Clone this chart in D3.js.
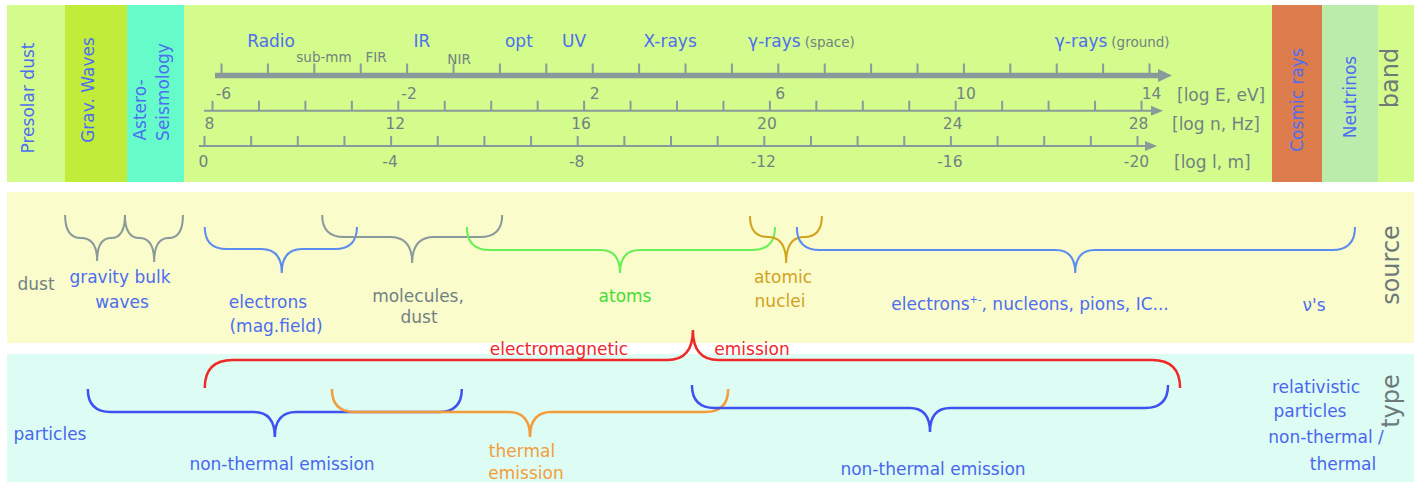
<!DOCTYPE html>
<html><head><meta charset="utf-8">
<script src="https://cdn.jsdelivr.net/npm/d3@7"></script>
<style>
body{margin:0;background:#fff;}
text{font-family:"DejaVu Sans",Verdana,sans-serif;}
</style>
</head><body>
<svg id="c" width="1414" height="482"></svg>
<script>
// ---------------- DATA ----------------
const energyTicks = d3.range(-6, 15);
const energyLabels = [-6, -2, 2, 6, 10, 14];
const freqTicks = d3.range(8, 29);
const freqLabels = [8, 12, 16, 20, 24, 28];
const waveTicks = d3.range(0, -21, -1);
const waveLabels = [0, -4, -8, -12, -16, -20];
const axisUnits = ["[log E, eV]", "[log n, Hz]", "[log l, m]"];

const bandNames = ["Radio", "IR", "opt", "UV", "X-rays"];
const bandCentersE = [-4.92, -1.67, 0.42, 1.61, 3.68];
const subBandNames = ["sub-mm", "FIR", "NIR"];
const subBandCentersE = [-3.78, -2.66, -0.87];
const gammaNames = ["γ-rays", "γ-rays"];
const gammaQualifiers = ["(space)", "(ground)"];
const gammaStartE = [5.36, 11.97];

const messengerColumns = ["Presolar dust", "Grav. Waves", "Astero-|Seismology", "Cosmic rays", "Neutrinos"];
const rowNames = ["band", "source", "type"];

// sources: brace extent in log E [from, to, tip]
const sourceNames = ["gravity waves", "bulk waves", "electrons (mag.field)", "molecules, dust", "atoms", "atomic nuclei", "electrons+-, nucleons, pions, IC..."];
const sourceRanges = [[-9.36, -8.07, -8.67], [-8.07, -6.82, -7.44], [-6.35, -3.07, -4.69], [-3.82, 0.06, -1.88], [-0.70, 5.94, 2.60], [5.40, 6.95, 6.18], [6.41, 18.44, 12.41]];

// emission types: brace extent in log E [from, to, tip]
const typeNames = ["non-thermal emission (particles)", "thermal emission", "non-thermal emission (relativistic)", "electromagnetic emission"];
const typeRanges = [[-8.87, -0.81, -4.84], [-3.61, 4.93, 0.66], [4.15, 14.41, 9.28], [-6.35, 14.67, 4.17]];

// ---------------- STYLE / LAYOUT ----------------
const C = {
  top: "#d4fc8c", src: "#fafccc", typ: "#dcfcf4",
  grav: "#c2ec3a", astero: "#66fcca", cosmic: "#dc7c4c", neutrino: "#bcecac",
  blue: "#4d6ef0", blueBrace: "#5b8cf0", typeBlue: "#3f52f0", typeBlueText: "#4a66ee",
  gray: "#728282", grayBrace: "#8a9a9a", axis: "#8a9a9a",
  green: "#44dd33", greenBrace: "#66f055", gold: "#d2a21c", orange: "#f59c3a", red: "#f02828",
  big: "#6e7a7a"
};
const FS = 17;

const svg = d3.select("#c");

// panels
svg.append("rect").attr("x", 7).attr("y", 5).attr("width", 1407).attr("height", 177).attr("fill", C.top);
svg.append("rect").attr("x", 7).attr("y", 192).attr("width", 1407).attr("height", 151).attr("fill", C.src);
svg.append("rect").attr("x", 7).attr("y", 354).attr("width", 1407).attr("height", 128).attr("fill", C.typ);

const columns = [
  {x: 7, w: 58, fill: C.top}, {x: 65, w: 62, fill: C.grav}, {x: 127, w: 57, fill: C.astero},
  {x: 1272, w: 50, fill: C.cosmic}, {x: 1322, w: 56, fill: C.neutrino}
];
svg.selectAll("rect.col").data(columns).enter().append("rect").attr("class", "col")
  .attr("x", d => d.x).attr("y", 5).attr("width", d => d.w).attr("height", 177).attr("fill", d => d.fill);

// column labels (rotated)
const colLabelPos = [[28, 98], [88, 90], [null, null], [1297, 100], [1350, 97]];
messengerColumns.forEach((name, i) => {
  const parts = name.split("|");
  if (parts.length === 1) {
    svg.append("text").attr("transform", `translate(${colLabelPos[i][0]},${colLabelPos[i][1]}) rotate(-90)`)
      .attr("text-anchor", "middle").attr("dominant-baseline", "central")
      .attr("font-size", FS).attr("fill", C.blue).text(name);
  } else {
    const pos = [[140, 110], [163, 92]];
    parts.forEach((p, j) => {
      svg.append("text").attr("transform", `translate(${pos[j][0]},${pos[j][1]}) rotate(-90)`)
        .attr("text-anchor", "middle").attr("dominant-baseline", "central")
        .attr("font-size", FS).attr("fill", C.blue).text(p);
    });
  }
});

// row labels
const rowLabelPos = [[1390, 78], [1391, 265], [1391, 401]];
rowNames.forEach((n, i) => {
  svg.append("text").attr("transform", `translate(${rowLabelPos[i][0]},${rowLabelPos[i][1]}) rotate(-90)`)
    .attr("text-anchor", "middle").attr("dominant-baseline", "central")
    .attr("font-size", 24).attr("fill", C.big).text(n);
});

// ---------------- AXES ----------------
const xE = d3.scaleLinear().domain([-6, 14]).range([221, 1149]);
const xF = d3.scaleLinear().domain([8, 28]).range([212, 1141]);
const xL = d3.scaleLinear().domain([0, -20]).range([204, 1137]);

const axes = [
  {scale: xE, ticks: energyTicks, labels: energyLabels, y: 75.5, start: 215, tip: 1172, th: 5.5, hl: 14, hh: 6.5, tick: 12, pad: 12, dx: 2, unit: axisUnits[0], ux: 1177, uy: 101},
  {scale: xF, ticks: freqTicks, labels: freqLabels, y: 110.7, start: 204, tip: 1163, th: 2, hl: 12, hh: 5, tick: 10, pad: 7, dx: -3, unit: axisUnits[1], ux: 1172, uy: 130},
  {scale: xL, ticks: waveTicks, labels: waveLabels, y: 146, start: 199, tip: 1157, th: 2, hl: 12, hh: 5, tick: 10, pad: 10, dx: -1, unit: axisUnits[2], ux: 1174, uy: 168}
];

axes.forEach(a => {
  // line + arrow head
  svg.append("line").attr("x1", a.start).attr("x2", a.tip - a.hl + 1).attr("y1", a.y).attr("y2", a.y)
    .attr("stroke", C.axis).attr("stroke-width", a.th);
  svg.append("path").attr("d", `M${a.tip},${a.y} L${a.tip - a.hl},${a.y - a.hh} L${a.tip - a.hl},${a.y + a.hh} Z`).attr("fill", C.axis);

  const gT = svg.append("g").attr("transform", `translate(0,${a.y})`)
    .call(d3.axisBottom(a.scale).tickValues(a.ticks).tickFormat("").tickSizeInner(-a.tick).tickSizeOuter(0));
  gT.select(".domain").remove();
  gT.selectAll(".tick line").attr("stroke", C.axis).attr("stroke-width", 2);

  const gL = svg.append("g").attr("transform", `translate(0,${a.y})`)
    .call(d3.axisBottom(a.scale).tickValues(a.labels).tickFormat(d => String(d)).tickSize(0).tickPadding(a.pad));
  gL.select(".domain").remove();
  gL.selectAll(".tick text").attr("font-size", 15.5).attr("fill", C.gray).attr("dx", a.dx)
    .style("font-family", '"DejaVu Sans",sans-serif');

  svg.append("text").attr("x", a.ux).attr("y", a.uy).attr("font-size", FS).attr("fill", C.gray).text(a.unit);
});

// band names
svg.selectAll("text.band").data(bandNames).enter().append("text").attr("class", "band")
  .attr("x", (d, i) => xE(bandCentersE[i])).attr("y", 47).attr("text-anchor", "middle")
  .attr("font-size", FS).attr("fill", C.blue).text(d => d);
svg.selectAll("text.sub").data(subBandNames).enter().append("text").attr("class", "sub")
  .attr("x", (d, i) => xE(subBandCentersE[i])).attr("y", (d, i) => i === 2 ? 64 : 62).attr("text-anchor", "middle")
  .attr("font-size", 13.5).attr("fill", C.gray).text(d => d);
gammaNames.forEach((g, i) => {
  const t = svg.append("text").attr("x", xE(gammaStartE[i])).attr("y", 47).attr("font-size", FS).attr("fill", C.blue);
  t.append("tspan").text(g);
  t.append("tspan").attr("dx", 4).attr("font-size", 13.5).attr("fill", C.gray).text(gammaQualifiers[i]);
});

// ---------------- BRACES ----------------
function bracePath(x1, x2, xt, yEnd, yBar, yTip) {
  const dE = Math.abs(yBar - yEnd), dT = Math.abs(yTip - yBar);
  const rL = Math.min(dE, (xt - x1) / 2), rR = Math.min(dE, (x2 - xt) / 2);
  const tL = Math.min(dT * 0.85, (xt - x1) / 2), tR = Math.min(dT * 0.85, (x2 - xt) / 2);
  const p = d3.path();
  p.moveTo(x1, yEnd);
  p.quadraticCurveTo(x1, yBar, x1 + rL, yBar);
  p.lineTo(xt - tL, yBar);
  p.quadraticCurveTo(xt, yBar, xt, yTip);
  p.quadraticCurveTo(xt, yBar, xt + tR, yBar);
  p.lineTo(x2 - rR, yBar);
  p.quadraticCurveTo(x2, yBar, x2, yEnd);
  return p.toString();
}

const srcLevels = [[215, 238, 261], [215, 238, 262], [227, 249, 273], [215, 237, 263], [227, 250, 273], [216, 237, 263], [227, 250, 273]];
const srcColors = [C.grayBrace, C.grayBrace, C.blueBrace, C.grayBrace, C.greenBrace, C.gold, C.blueBrace];
svg.selectAll("path.src").data(sourceRanges).enter().append("path").attr("class", "src")
  .attr("d", (d, i) => bracePath(xE(d[0]), xE(d[1]), xE(d[2]), srcLevels[i][0], srcLevels[i][1], srcLevels[i][2]))
  .attr("fill", "none").attr("stroke", (d, i) => srcColors[i]).attr("stroke-width", 2);

const typeLevels = [[389, 412, 437], [389, 412, 437], [385, 408, 432], [388, 360, 330]];
const typeColors = [C.typeBlue, C.orange, C.typeBlue, C.red];
svg.selectAll("path.typ").data(typeRanges).enter().append("path").attr("class", "typ")
  .attr("d", (d, i) => bracePath(xE(d[0]), xE(d[1]), xE(d[2]), typeLevels[i][0], typeLevels[i][1], typeLevels[i][2]))
  .attr("fill", "none").attr("stroke", (d, i) => typeColors[i]).attr("stroke-width", 2.5);

// ---------------- LABELS ----------------
function label(txt, x, y, color, anchor) {
  return svg.append("text").attr("x", x).attr("y", y).attr("text-anchor", anchor || "middle")
    .attr("font-size", FS).attr("fill", color).text(txt);
}
// source row
label("dust", 36, 290, C.gray);
label("gravity bulk", 120, 283, C.blue);
label("waves", 122, 308, C.blue);
label("electrons", 268, 308, C.blue);
label("(mag.field)", 276, 332, C.blue);
label("molecules,", 418, 302, C.gray);
label("dust", 419, 323, C.gray);
label("atoms", 625, 302, C.green);
label("atomic", 783, 283, C.gold);
label("nuclei", 780, 307, C.gold);
{
  const t = svg.append("text").attr("x", 1030).attr("y", 310).attr("text-anchor", "middle").attr("font-size", FS).attr("fill", C.blue);
  t.append("tspan").text("electrons");
  t.append("tspan").attr("font-size", 10).attr("dy", -7).text("+-");
  t.append("tspan").attr("dy", 7).text(", nucleons, pions, IC...");
}
label("ν's", 1314, 311, C.blue);

// type row
label("electromagnetic", 559, 355, C.red);
label("emission", 752, 355, C.red);
label("particles", 50, 440, C.typeBlueText);
label("non-thermal emission", 282, 470, C.typeBlueText);
label("thermal", 522, 457, C.orange);
label("emission", 526, 479, C.orange);
label("non-thermal emission", 933, 475, C.typeBlueText);
label("relativistic", 1316, 393, C.typeBlueText);
label("particles", 1310, 417, C.typeBlueText);
label("non-thermal /", 1326, 443, C.typeBlueText);
label("thermal", 1343, 470, C.typeBlueText);
</script>
</body></html>
